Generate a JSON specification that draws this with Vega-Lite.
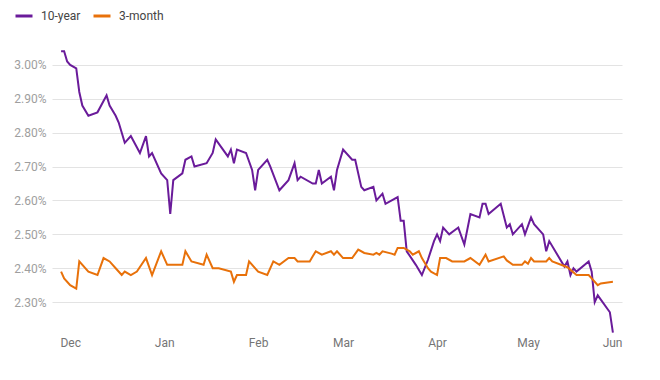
{
  "$schema": "https://vega.github.io/schema/vega-lite/v6.json",
  "autosize": {"type": "none"},
  "padding": {"left": 52, "top": 31, "right": 38, "bottom": 44},
  "width": 570,
  "height": 305,
  "background": "white",
  "config": {
    "view": {"stroke": null},
    "font": "Roboto"
  },
  "datasets": {
    "yields": [
      {"date": "2018-11-28", "series": "10-year", "value": 3.04},
      {"date": "2018-11-29", "series": "10-year", "value": 3.04},
      {"date": "2018-11-30", "series": "10-year", "value": 3.01},
      {"date": "2018-12-01", "series": "10-year", "value": 3.00},
      {"date": "2018-12-03", "series": "10-year", "value": 2.99},
      {"date": "2018-12-04", "series": "10-year", "value": 2.92},
      {"date": "2018-12-05", "series": "10-year", "value": 2.88},
      {"date": "2018-12-07", "series": "10-year", "value": 2.85},
      {"date": "2018-12-10", "series": "10-year", "value": 2.86},
      {"date": "2018-12-13", "series": "10-year", "value": 2.91},
      {"date": "2018-12-14", "series": "10-year", "value": 2.88},
      {"date": "2018-12-16", "series": "10-year", "value": 2.85},
      {"date": "2018-12-17", "series": "10-year", "value": 2.83},
      {"date": "2018-12-19", "series": "10-year", "value": 2.77},
      {"date": "2018-12-21", "series": "10-year", "value": 2.79},
      {"date": "2018-12-24", "series": "10-year", "value": 2.74},
      {"date": "2018-12-26", "series": "10-year", "value": 2.79},
      {"date": "2018-12-27", "series": "10-year", "value": 2.73},
      {"date": "2018-12-28", "series": "10-year", "value": 2.74},
      {"date": "2018-12-31", "series": "10-year", "value": 2.68},
      {"date": "2019-01-02", "series": "10-year", "value": 2.66},
      {"date": "2019-01-03", "series": "10-year", "value": 2.56},
      {"date": "2019-01-04", "series": "10-year", "value": 2.66},
      {"date": "2019-01-07", "series": "10-year", "value": 2.68},
      {"date": "2019-01-08", "series": "10-year", "value": 2.72},
      {"date": "2019-01-10", "series": "10-year", "value": 2.73},
      {"date": "2019-01-11", "series": "10-year", "value": 2.70},
      {"date": "2019-01-15", "series": "10-year", "value": 2.71},
      {"date": "2019-01-17", "series": "10-year", "value": 2.74},
      {"date": "2019-01-18", "series": "10-year", "value": 2.78},
      {"date": "2019-01-22", "series": "10-year", "value": 2.73},
      {"date": "2019-01-23", "series": "10-year", "value": 2.75},
      {"date": "2019-01-24", "series": "10-year", "value": 2.71},
      {"date": "2019-01-25", "series": "10-year", "value": 2.75},
      {"date": "2019-01-28", "series": "10-year", "value": 2.74},
      {"date": "2019-01-30", "series": "10-year", "value": 2.69},
      {"date": "2019-01-31", "series": "10-year", "value": 2.63},
      {"date": "2019-02-01", "series": "10-year", "value": 2.69},
      {"date": "2019-02-04", "series": "10-year", "value": 2.72},
      {"date": "2019-02-05", "series": "10-year", "value": 2.70},
      {"date": "2019-02-08", "series": "10-year", "value": 2.63},
      {"date": "2019-02-11", "series": "10-year", "value": 2.66},
      {"date": "2019-02-13", "series": "10-year", "value": 2.71},
      {"date": "2019-02-14", "series": "10-year", "value": 2.66},
      {"date": "2019-02-15", "series": "10-year", "value": 2.67},
      {"date": "2019-02-19", "series": "10-year", "value": 2.65},
      {"date": "2019-02-20", "series": "10-year", "value": 2.65},
      {"date": "2019-02-21", "series": "10-year", "value": 2.69},
      {"date": "2019-02-22", "series": "10-year", "value": 2.65},
      {"date": "2019-02-25", "series": "10-year", "value": 2.67},
      {"date": "2019-02-26", "series": "10-year", "value": 2.63},
      {"date": "2019-02-27", "series": "10-year", "value": 2.69},
      {"date": "2019-02-28", "series": "10-year", "value": 2.72},
      {"date": "2019-03-01", "series": "10-year", "value": 2.75},
      {"date": "2019-03-04", "series": "10-year", "value": 2.72},
      {"date": "2019-03-05", "series": "10-year", "value": 2.72},
      {"date": "2019-03-07", "series": "10-year", "value": 2.64},
      {"date": "2019-03-08", "series": "10-year", "value": 2.63},
      {"date": "2019-03-11", "series": "10-year", "value": 2.64},
      {"date": "2019-03-12", "series": "10-year", "value": 2.60},
      {"date": "2019-03-14", "series": "10-year", "value": 2.62},
      {"date": "2019-03-15", "series": "10-year", "value": 2.59},
      {"date": "2019-03-19", "series": "10-year", "value": 2.61},
      {"date": "2019-03-20", "series": "10-year", "value": 2.54},
      {"date": "2019-03-21", "series": "10-year", "value": 2.54},
      {"date": "2019-03-22", "series": "10-year", "value": 2.45},
      {"date": "2019-03-25", "series": "10-year", "value": 2.41},
      {"date": "2019-03-27", "series": "10-year", "value": 2.38},
      {"date": "2019-03-29", "series": "10-year", "value": 2.425},
      {"date": "2019-03-31", "series": "10-year", "value": 2.48},
      {"date": "2019-04-01", "series": "10-year", "value": 2.50},
      {"date": "2019-04-02", "series": "10-year", "value": 2.48},
      {"date": "2019-04-03", "series": "10-year", "value": 2.52},
      {"date": "2019-04-05", "series": "10-year", "value": 2.50},
      {"date": "2019-04-08", "series": "10-year", "value": 2.52},
      {"date": "2019-04-10", "series": "10-year", "value": 2.47},
      {"date": "2019-04-12", "series": "10-year", "value": 2.56},
      {"date": "2019-04-15", "series": "10-year", "value": 2.55},
      {"date": "2019-04-16", "series": "10-year", "value": 2.59},
      {"date": "2019-04-17", "series": "10-year", "value": 2.59},
      {"date": "2019-04-18", "series": "10-year", "value": 2.56},
      {"date": "2019-04-22", "series": "10-year", "value": 2.59},
      {"date": "2019-04-24", "series": "10-year", "value": 2.52},
      {"date": "2019-04-25", "series": "10-year", "value": 2.53},
      {"date": "2019-04-26", "series": "10-year", "value": 2.50},
      {"date": "2019-04-29", "series": "10-year", "value": 2.53},
      {"date": "2019-04-30", "series": "10-year", "value": 2.50},
      {"date": "2019-05-02", "series": "10-year", "value": 2.55},
      {"date": "2019-05-03", "series": "10-year", "value": 2.53},
      {"date": "2019-05-06", "series": "10-year", "value": 2.50},
      {"date": "2019-05-07", "series": "10-year", "value": 2.45},
      {"date": "2019-05-08", "series": "10-year", "value": 2.48},
      {"date": "2019-05-13", "series": "10-year", "value": 2.405},
      {"date": "2019-05-14", "series": "10-year", "value": 2.42},
      {"date": "2019-05-15", "series": "10-year", "value": 2.38},
      {"date": "2019-05-16", "series": "10-year", "value": 2.40},
      {"date": "2019-05-17", "series": "10-year", "value": 2.39},
      {"date": "2019-05-21", "series": "10-year", "value": 2.42},
      {"date": "2019-05-22", "series": "10-year", "value": 2.39},
      {"date": "2019-05-23", "series": "10-year", "value": 2.30},
      {"date": "2019-05-24", "series": "10-year", "value": 2.32},
      {"date": "2019-05-28", "series": "10-year", "value": 2.27},
      {"date": "2019-05-29", "series": "10-year", "value": 2.21},

      {"date": "2018-11-28", "series": "3-month", "value": 2.39},
      {"date": "2018-11-29", "series": "3-month", "value": 2.37},
      {"date": "2018-12-01", "series": "3-month", "value": 2.35},
      {"date": "2018-12-03", "series": "3-month", "value": 2.34},
      {"date": "2018-12-04", "series": "3-month", "value": 2.42},
      {"date": "2018-12-07", "series": "3-month", "value": 2.39},
      {"date": "2018-12-10", "series": "3-month", "value": 2.38},
      {"date": "2018-12-12", "series": "3-month", "value": 2.43},
      {"date": "2018-12-14", "series": "3-month", "value": 2.42},
      {"date": "2018-12-16", "series": "3-month", "value": 2.40},
      {"date": "2018-12-18", "series": "3-month", "value": 2.38},
      {"date": "2018-12-19", "series": "3-month", "value": 2.39},
      {"date": "2018-12-21", "series": "3-month", "value": 2.38},
      {"date": "2018-12-23", "series": "3-month", "value": 2.39},
      {"date": "2018-12-26", "series": "3-month", "value": 2.43},
      {"date": "2018-12-28", "series": "3-month", "value": 2.38},
      {"date": "2018-12-31", "series": "3-month", "value": 2.45},
      {"date": "2019-01-02", "series": "3-month", "value": 2.41},
      {"date": "2019-01-07", "series": "3-month", "value": 2.41},
      {"date": "2019-01-08", "series": "3-month", "value": 2.45},
      {"date": "2019-01-10", "series": "3-month", "value": 2.42},
      {"date": "2019-01-14", "series": "3-month", "value": 2.41},
      {"date": "2019-01-15", "series": "3-month", "value": 2.44},
      {"date": "2019-01-17", "series": "3-month", "value": 2.40},
      {"date": "2019-01-19", "series": "3-month", "value": 2.40},
      {"date": "2019-01-23", "series": "3-month", "value": 2.39},
      {"date": "2019-01-24", "series": "3-month", "value": 2.36},
      {"date": "2019-01-25", "series": "3-month", "value": 2.38},
      {"date": "2019-01-28", "series": "3-month", "value": 2.38},
      {"date": "2019-01-29", "series": "3-month", "value": 2.42},
      {"date": "2019-02-01", "series": "3-month", "value": 2.39},
      {"date": "2019-02-04", "series": "3-month", "value": 2.38},
      {"date": "2019-02-06", "series": "3-month", "value": 2.42},
      {"date": "2019-02-08", "series": "3-month", "value": 2.41},
      {"date": "2019-02-11", "series": "3-month", "value": 2.43},
      {"date": "2019-02-13", "series": "3-month", "value": 2.43},
      {"date": "2019-02-14", "series": "3-month", "value": 2.42},
      {"date": "2019-02-18", "series": "3-month", "value": 2.42},
      {"date": "2019-02-19", "series": "3-month", "value": 2.435},
      {"date": "2019-02-20", "series": "3-month", "value": 2.45},
      {"date": "2019-02-22", "series": "3-month", "value": 2.44},
      {"date": "2019-02-25", "series": "3-month", "value": 2.45},
      {"date": "2019-02-26", "series": "3-month", "value": 2.44},
      {"date": "2019-02-27", "series": "3-month", "value": 2.45},
      {"date": "2019-03-01", "series": "3-month", "value": 2.43},
      {"date": "2019-03-04", "series": "3-month", "value": 2.43},
      {"date": "2019-03-06", "series": "3-month", "value": 2.455},
      {"date": "2019-03-08", "series": "3-month", "value": 2.445},
      {"date": "2019-03-11", "series": "3-month", "value": 2.44},
      {"date": "2019-03-12", "series": "3-month", "value": 2.445},
      {"date": "2019-03-13", "series": "3-month", "value": 2.44},
      {"date": "2019-03-14", "series": "3-month", "value": 2.45},
      {"date": "2019-03-17", "series": "3-month", "value": 2.443},
      {"date": "2019-03-18", "series": "3-month", "value": 2.44},
      {"date": "2019-03-19", "series": "3-month", "value": 2.46},
      {"date": "2019-03-21", "series": "3-month", "value": 2.46},
      {"date": "2019-03-23", "series": "3-month", "value": 2.45},
      {"date": "2019-03-24", "series": "3-month", "value": 2.44},
      {"date": "2019-03-26", "series": "3-month", "value": 2.45},
      {"date": "2019-03-27", "series": "3-month", "value": 2.43},
      {"date": "2019-03-29", "series": "3-month", "value": 2.40},
      {"date": "2019-03-30", "series": "3-month", "value": 2.39},
      {"date": "2019-04-01", "series": "3-month", "value": 2.38},
      {"date": "2019-04-02", "series": "3-month", "value": 2.43},
      {"date": "2019-04-04", "series": "3-month", "value": 2.43},
      {"date": "2019-04-06", "series": "3-month", "value": 2.42},
      {"date": "2019-04-10", "series": "3-month", "value": 2.42},
      {"date": "2019-04-12", "series": "3-month", "value": 2.43},
      {"date": "2019-04-15", "series": "3-month", "value": 2.41},
      {"date": "2019-04-17", "series": "3-month", "value": 2.44},
      {"date": "2019-04-18", "series": "3-month", "value": 2.42},
      {"date": "2019-04-23", "series": "3-month", "value": 2.435},
      {"date": "2019-04-24", "series": "3-month", "value": 2.423},
      {"date": "2019-04-26", "series": "3-month", "value": 2.41},
      {"date": "2019-04-29", "series": "3-month", "value": 2.41},
      {"date": "2019-04-30", "series": "3-month", "value": 2.42},
      {"date": "2019-05-01", "series": "3-month", "value": 2.413},
      {"date": "2019-05-02", "series": "3-month", "value": 2.43},
      {"date": "2019-05-03", "series": "3-month", "value": 2.42},
      {"date": "2019-05-07", "series": "3-month", "value": 2.42},
      {"date": "2019-05-08", "series": "3-month", "value": 2.43},
      {"date": "2019-05-09", "series": "3-month", "value": 2.42},
      {"date": "2019-05-14", "series": "3-month", "value": 2.403},
      {"date": "2019-05-17", "series": "3-month", "value": 2.38},
      {"date": "2019-05-21", "series": "3-month", "value": 2.38},
      {"date": "2019-05-22", "series": "3-month", "value": 2.37},
      {"date": "2019-05-24", "series": "3-month", "value": 2.35},
      {"date": "2019-05-25", "series": "3-month", "value": 2.355},
      {"date": "2019-05-29", "series": "3-month", "value": 2.36}
    ]
  },
  "data": {"name": "yields"},
  "mark": {"type": "line", "strokeWidth": 2, "clip": false},
  "encoding": {
    "x": {
      "field": "date",
      "type": "temporal",
      "scale": {
        "type": "utc",
        "domain": [
          {"year": 2018, "month": 11, "date": 25, "utc": true},
          {"year": 2019, "month": 6, "date": 1, "utc": true}
        ]
      },
      "axis": {
        "title": null,
        "values": [
          {"year": 2018, "month": 12, "date": 1, "utc": true},
          {"year": 2019, "month": 1, "date": 1, "utc": true},
          {"year": 2019, "month": 2, "date": 1, "utc": true},
          {"year": 2019, "month": 3, "date": 1, "utc": true},
          {"year": 2019, "month": 4, "date": 1, "utc": true},
          {"year": 2019, "month": 5, "date": 1, "utc": true},
          {"year": 2019, "month": 6, "date": 1, "utc": true}
        ],
        "labelExpr": "utcFormat(datum.value, '%b')",
        "grid": false,
        "domain": false,
        "ticks": false,
        "labelPadding": 1,
        "labelFontSize": 12,
        "labelColor": "#757575",
        "labelFont": "Roboto",
        "labelOverlap": false
      }
    },
    "y": {
      "field": "value",
      "type": "quantitative",
      "scale": {"domain": [2.2, 3.1], "nice": false, "zero": false},
      "axis": {
        "title": null,
        "values": [2.3, 2.4, 2.5, 2.6, 2.7, 2.8, 2.9, 3.0],
        "labelExpr": "format(datum.value, '.2f') + '%'",
        "grid": true,
        "gridColor": "#e3e3e3",
        "gridWidth": 1,
        "domain": false,
        "ticks": false,
        "labelPadding": 6,
        "labelFontSize": 12,
        "labelColor": "#9e9e9e",
        "labelFont": "Roboto"
      }
    },
    "color": {
      "field": "series",
      "type": "nominal",
      "scale": {"domain": ["10-year", "3-month"], "range": ["#6a1b9a", "#e8710a"]},
      "legend": {
        "title": null,
        "orient": "none",
        "legendX": -38,
        "legendY": -25,
        "direction": "horizontal",
        "symbolType": "stroke",
        "symbolSize": 289,
        "symbolStrokeWidth": 3,
        "labelFontSize": 12,
        "labelColor": "#444444",
        "labelFont": "Roboto",
        "labelOffset": 7,
        "columnPadding": 6,
        "padding": 0
      }
    }
  }
}
